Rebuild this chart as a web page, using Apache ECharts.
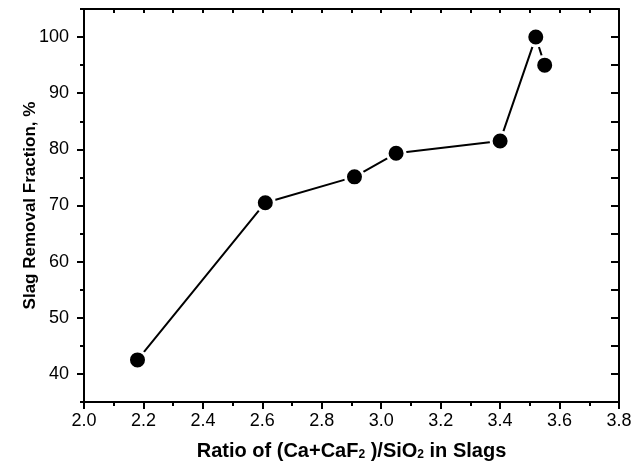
<!DOCTYPE html>
<html>
<head>
<meta charset="utf-8">
<script src="https://cdn.jsdelivr.net/npm/echarts@6/dist/echarts.min.js"></script>
<style>
  html, body { margin: 0; padding: 0; background: #fff; }
  #chart { width: 637px; height: 466px; }
</style>
</head>
<body>
<div id="chart"></div>
<script>
// ratio (Ca+CaF2)/SiO2 vs slag removal fraction
const ratio = [2.18, 2.61, 2.91, 3.05, 3.40, 3.52, 3.55];
const removal = [42.5, 70.5, 75.1, 79.3, 81.5, 100.0, 95.0];
const yMajor = [40, 50, 60, 70, 80, 90, 100];

const font = 'Liberation Sans, Arial, sans-serif';
const chart = echarts.init(document.getElementById('chart'));

const lineW = 2;
chart.setOption({
  animation: false,
  backgroundColor: '#fff',
  grid: { left: 84, right: 18, top: 9, bottom: 64 },
  xAxis: [
    {
      type: 'value', position: 'bottom', min: 2.0, max: 3.8, interval: 0.2,
      name: '{n|Ratio of (Ca+CaF}{s|2}{n| )/SiO}{s|2}{n| in Slags}',
      nameLocation: 'middle', nameGap: 39, nameMoveOverlap: false,
      nameTextStyle: {
        rich: {
          n: { fontFamily: font, fontSize: 20, fontWeight: 'bold', color: '#000', lineHeight: 20, verticalAlign: 'middle' },
          s: { fontFamily: font, fontSize: 12, fontWeight: 'bold', color: '#000', lineHeight: 12, verticalAlign: 'bottom' }
        }
      },
      splitLine: { show: false },
      axisLine: { onZero: false, lineStyle: { color: '#000', width: lineW } },
      axisTick: { inside: false, length: 7, lineStyle: { color: '#000', width: lineW } },
      minorTick: { show: true, splitNumber: 2, length: 4, lineStyle: { color: '#000', width: lineW } },
      axisLabel: { fontFamily: font, fontSize: 18, color: '#000', margin: 10,
        formatter: v => v.toFixed(1) }
    },
    {
      type: 'value', position: 'top', min: 2.0, max: 3.8, interval: 0.1,
      splitLine: { show: false },
      axisLine: { onZero: false, lineStyle: { color: '#000', width: lineW } },
      axisTick: { inside: true, length: 4, lineStyle: { color: '#000', width: lineW } },
      axisLabel: { show: false }
    }
  ],
  yAxis: [
    {
      type: 'value', position: 'left', min: 35, max: 105, interval: 5,
      name: 'Slag Removal Fraction, %',
      nameLocation: 'middle', nameGap: 45, nameMoveOverlap: false,
      nameTextStyle: { fontFamily: font, fontSize: 17, fontWeight: 'bold', color: '#000' },
      splitLine: { show: false },
      axisLine: { onZero: false, lineStyle: { color: '#000', width: lineW } },
      axisTick: { customValues: yMajor, length: 7, lineStyle: { color: '#000', width: lineW } },
      axisLabel: { customValues: yMajor, fontFamily: font, fontSize: 18, color: '#000', margin: 15 }
    },
    {
      type: 'value', position: 'left', min: 35, max: 105, interval: 5,
      splitLine: { show: false },
      axisLine: { show: false },
      axisTick: { length: 4, lineStyle: { color: '#000', width: lineW } },
      axisLabel: { show: false }
    },
    {
      type: 'value', position: 'right', min: 35, max: 105, interval: 5,
      splitLine: { show: false },
      axisLine: { onZero: false, lineStyle: { color: '#000', width: lineW } },
      axisTick: { inside: true, length: 8, lineStyle: { color: '#000', width: lineW } },
      axisLabel: { show: false }
    }
  ],
  series: [{
    type: 'line',
    xAxisIndex: 0, yAxisIndex: 0,
    data: ratio.map((x, i) => [x, removal[i]]),
    symbol: 'circle', symbolSize: 18,
    lineStyle: { color: '#000', width: 2 },
    itemStyle: { color: '#000', borderColor: '#fff', borderWidth: 3 }
  }]
});
</script>
</body>
</html>
